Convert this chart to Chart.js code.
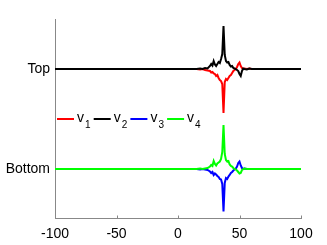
<!DOCTYPE html>
<html>
<head>
<meta charset="utf-8">
<script src="https://cdn.jsdelivr.net/npm/chart.js@4"></script>
<style>
  html, body { margin: 0; padding: 0; background: #fff; }
  #wrap { width: 327px; height: 245px; }
</style>
</head>
<body>
<div id="wrap"><canvas id="traceChart"></canvas></div>
<script>
"use strict";

// sample positions along x
var xValues = [-100, 15, 18, 20, 22, 24, 26, 27, 28, 29, 30, 31, 32, 33, 34, 35, 36, 37, 38, 39,
  40, 41, 42, 43, 44, 45, 46, 47, 48, 49, 50, 51, 52, 53, 54, 56, 58, 60, 100];

// traces (relative to their row baseline)
var v1 = [0, 0, -0.01, 0, -0.02, -0.03, -0.04, -0.07, -0.06, -0.09, -0.1, -0.14, -0.12, -0.18, -0.22, -0.24, -0.3, -0.88, -0.26, -0.2,
  -0.22, -0.18, -0.14, -0.12, -0.08, -0.04, -0.02, 0, 0.04, 0.1, 0.13, 0.06, 0.02, 0, 0.01, 0, 0.01, 0, 0];
var v2 = [0, 0, 0.01, 0, 0.02, 0.01, 0.06, 0.1, 0.07, 0.16, 0.09, 0.06, 0.1, 0.14, 0.12, 0.2, 0.3, 0.86, 0.28, 0.16,
  0.13, 0.14, 0.08, 0.05, 0.06, 0.02, 0.01, 0, -0.02, -0.04, -0.1, -0.14, -0.04, 0.01, 0, -0.01, 0.01, 0, 0];
var v3 = [0, 0, -0.01, 0, -0.01, -0.02, -0.05, -0.08, -0.06, -0.12, -0.09, -0.11, -0.14, -0.16, -0.2, -0.21, -0.3, -0.85, -0.28, -0.18,
  -0.2, -0.15, -0.12, -0.08, -0.06, -0.03, -0.01, 0.01, 0.05, 0.12, 0.15, 0.07, 0.02, 0, 0.01, 0, 0, 0, 0];
var v4 = [0, 0, 0.01, 0, 0.01, 0.02, 0.05, 0.08, 0.06, 0.16, 0.1, 0.07, 0.11, 0.13, 0.15, 0.2, 0.34, 0.88, 0.3, 0.18,
  0.15, 0.16, 0.09, 0.06, 0.05, 0.02, 0, -0.01, -0.03, -0.06, -0.09, -0.08, -0.02, 0, 0.01, 0, 0, 0, 0];

var seriesNames = ["1", "2", "3", "4"]; // shown as v with subscript
var seriesColors = ["#ff0000", "#000000", "#0000ff", "#00ff00"];
var rowNames = ["Top", "Bottom"];
var rowLevels = [1, -1];
var seriesRow = [0, 0, 1, 1];
var xTicks = [-100, -50, 0, 50, 100];

var FONT = "'Liberation Sans', Arial, sans-serif";
var allSeries = [v1, v2, v3, v4];

var datasets = allSeries.map(function (vals, i) {
  var base = rowLevels[seriesRow[i]];
  return {
    label: "v" + seriesNames[i],
    data: vals.map(function (v, j) { return { x: xValues[j], y: base + v }; }),
    borderColor: seriesColors[i],
    borderWidth: 2,
    pointRadius: 0,
    tension: 0,
    order: 4 - i,
  };
});

// legend with subscripts, placed at y = 0 inside the plot
var subLegend = {
  id: "subLegend",
  afterDatasetsDraw: function (chart) {
    var ctx = chart.ctx;
    var y = chart.scales.y.getPixelForValue(0);
    var x = chart.chartArea.left + 2;
    ctx.save();
    seriesNames.forEach(function (name, i) {
      ctx.strokeStyle = seriesColors[i];
      ctx.lineWidth = 2;
      ctx.beginPath();
      ctx.moveTo(x, y);
      ctx.lineTo(x + 17, y);
      ctx.stroke();
      ctx.fillStyle = "#000";
      ctx.textBaseline = "alphabetic";
      ctx.font = "14px " + FONT;
      ctx.fillText("v", x + 20, y + 3);
      ctx.font = "10px " + FONT;
      ctx.fillText(name, x + 28, y + 9);
      x += 36.7;
    });
    ctx.restore();
  },
};

// small inward tick marks on the x axis
var innerTicks = {
  id: "innerTicks",
  afterDraw: function (chart) {
    var ctx = chart.ctx;
    var sx = chart.scales.x;
    var bottom = chart.chartArea.bottom;
    ctx.save();
    ctx.strokeStyle = "#888";
    ctx.lineWidth = 1;
    xTicks.forEach(function (t) {
      var px = Math.round(sx.getPixelForValue(t)) + 0.5;
      ctx.beginPath();
      ctx.moveTo(px, bottom);
      ctx.lineTo(px, bottom - 2.5);
      ctx.stroke();
    });
    ctx.restore();
  },
};

var traceChart = new Chart(document.getElementById("traceChart").getContext("2d"), {
  type: "line",
  data: { datasets: datasets },
  plugins: [subLegend, innerTicks],
  options: {
    responsive: true,
    maintainAspectRatio: false,
    animation: false,
    layout: { padding: { top: 19, right: 26, left: 0, bottom: 0 } },
    plugins: { legend: { display: false }, tooltip: { enabled: false } },
    scales: {
      x: {
        type: "linear",
        min: -100,
        max: 100,
        afterBuildTicks: function (scale) {
          scale.ticks = xTicks.map(function (v) { return { value: v }; });
        },
        afterFit: function (scale) { scale.height = 27; },
        grid: { display: false, drawTicks: false },
        border: { display: true, color: "#888", width: 1 },
        ticks: { color: "#000", padding: 8, maxRotation: 0, font: { family: FONT, size: 14 } },
      },
      y: {
        type: "linear",
        min: -1.98,
        max: 2.0,
        afterBuildTicks: function (scale) {
          scale.ticks = rowLevels.map(function (v) { return { value: v }; });
        },
        afterFit: function (scale) { scale.width = 55; },
        grid: { display: false, drawTicks: false },
        border: { display: true, color: "#888", width: 1 },
        ticks: {
          color: "#000",
          padding: 5,
          font: { family: FONT, size: 14 },
          callback: function (value) {
            var k = rowLevels.indexOf(value);
            return k >= 0 ? rowNames[k] : "";
          },
        },
      },
    },
  },
});
</script>
</body>
</html>
